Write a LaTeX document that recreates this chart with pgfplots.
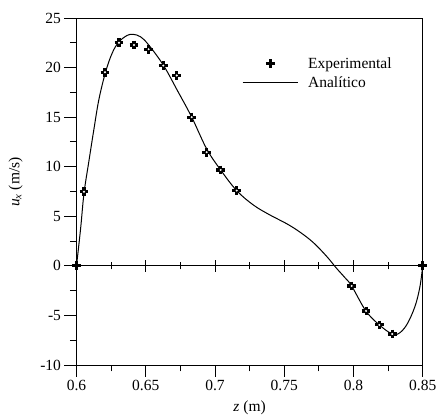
\documentclass[border=0pt]{standalone}
\usepackage{pgfplots}
\pgfplotsset{compat=1.18}
\usepackage{fontspec}
\setmainfont{Liberation Serif}
\newcommand{\fs}{\fontsize{15.5bp}{18bp}\selectfont}
\begin{document}
\begin{tikzpicture}
\begin{axis}[
  name=ax,
  scale only axis,
  width=346.2bp, height=347bp,
  xmin=0.6, xmax=0.85, ymin=-10, ymax=25,
  xtick={0.6,0.65,...,0.85},
  xticklabels={0.6,0.65,0.7,0.75,0.8,0.85},
  minor x tick num=1,
  ytick={-10,-5,0,5,10,15,20,25},
  minor y tick num=1,
  tick align=outside,
  xtick pos=left, ytick pos=left,
  major tick length=12bp, minor tick length=6.5bp,
  every tick/.style={black, line width=0.9bp},
  axis line style={line width=0.9bp},
  /pgf/number format/assume math mode=true,
  tick label style={font=\fs},
  label style={font=\fs},
  xlabel={\itshape z \upshape (m)},
  ylabel={{\itshape u}\textsubscript{\itshape x} (m/s)},
  xlabel style={at={(axis description cs:0.5,-0.124)}, anchor=center},
  ylabel style={at={(axis description cs:-0.176,0.527)}, anchor=center},
  legend style={draw=none, fill=none, font=\fs, at={(axis description cs:0.478,0.893)}, anchor=north west, row sep=3bp, column sep=8bp, inner sep=0pt},
  legend cell align=left,
  legend image code/.code={\draw[mark repeat=2,mark phase=2,#1] plot coordinates {(0bp,0bp) (27.5bp,0bp) (55bp,0bp)};},
  clip=false,
]
\draw[line width=0.9bp] (axis cs:0.6,0) -- (axis cs:0.85,0);
\pgfplotsinvokeforeach{0.65,0.7,0.75,0.8}{
  \draw[line width=0.9bp] (axis cs:#1,0) ++(0pt,-6bp) -- ++(0pt,12bp);
}
\pgfplotsinvokeforeach{0.625,0.675,0.725,0.775,0.825}{
  \draw[line width=0.9bp] (axis cs:#1,0) ++(0pt,-3.5bp) -- ++(0pt,7bp);
}
\addplot[only marks, mark=+, mark size=4.4bp, mark options={line width=3.1bp}] coordinates {
(0.600,0) (0.6054,7.48) (0.6206,19.53) (0.6307,22.5) (0.6415,22.28) (0.6521,21.85)
(0.6627,20.2) (0.6724,19.2) (0.6832,15.0) (0.694,11.46) (0.7041,9.67) (0.7157,7.59)
(0.7987,-2.03) (0.8091,-4.55) (0.8187,-5.96) (0.828,-6.87) (0.85,0)
};
\addlegendentry{Experimental}
\addplot[only marks, mark=*, mark size=0.8bp, white, forget plot] coordinates {
(0.6054,7.48) (0.6206,19.53) (0.6307,22.5) (0.6415,22.28) (0.6521,21.85)
(0.6627,20.2) (0.6724,19.2) (0.6832,15.0) (0.694,11.46) (0.7041,9.67) (0.7157,7.59)
(0.7987,-2.03) (0.8091,-4.55) (0.8187,-5.96) (0.828,-6.87)
};
\addplot[black, line width=1bp, smooth, tension=0.6, no marks] coordinates {
(0.600,0) (0.603,3.8) (0.6054,7.3) (0.609,10.6) (0.6126,13.8) (0.6162,16.8)
(0.6211,19.6) (0.6259,21.5) (0.6307,22.6) (0.6367,23.25) (0.641,23.35)
(0.6463,23.1) (0.652,22.3) (0.6627,20.25) (0.6728,17.7) (0.6832,15.0)
(0.694,11.8) (0.7041,9.67) (0.7157,7.59) (0.7277,6.14) (0.7397,5.13)
(0.7518,4.25) (0.7614,3.4) (0.771,2.35) (0.7807,0.95) (0.7875,-0.2)
(0.7939,-1.2) (0.7987,-2.03) (0.809,-4.55) (0.8187,-5.96) (0.8276,-6.85)
(0.8324,-6.85) (0.8384,-5.96) (0.8444,-4.1) (0.848,-2.1) (0.85,0)
};
\addlegendentry{Analítico}
\end{axis}
\pgfresetboundingbox
\path (ax.south west) ++(-76.5bp,-54bp) coordinate (bl);
\path (ax.north east) ++(14.3bp,18bp) coordinate (tr);
\path[use as bounding box] (bl) rectangle (tr);
\end{tikzpicture}
\end{document}
